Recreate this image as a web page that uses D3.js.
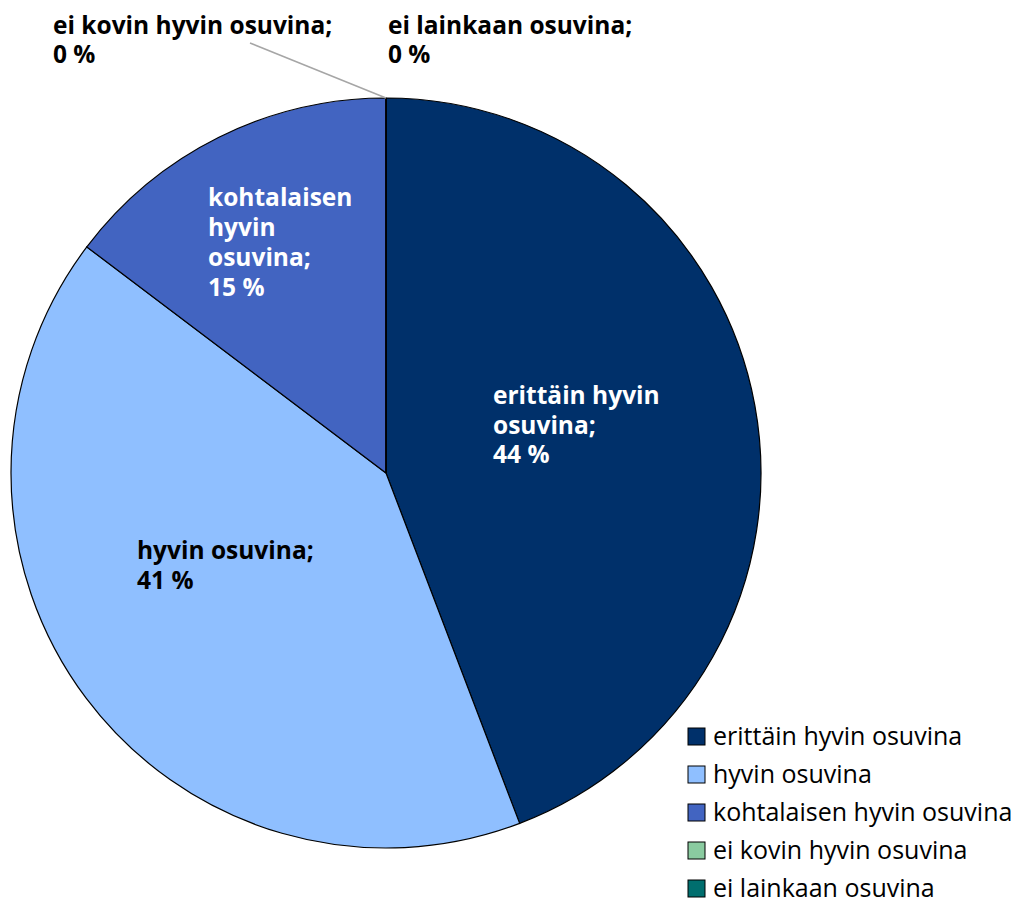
<!DOCTYPE html>
<html><head><meta charset="utf-8">
<script src="https://cdn.jsdelivr.net/npm/d3@7"></script>
<style>body{margin:0;background:#fff}svg{display:block}text{font-family:"Open Sans",sans-serif}</style>
</head><body>
<svg id="c" width="1021" height="901"></svg>
<script>
const categories = ["erittäin hyvin osuvina","hyvin osuvina","kohtalaisen hyvin osuvina","ei kovin hyvin osuvina","ei lainkaan osuvina"];
const values = [44.2, 41.1, 14.7, 0, 0];
const valueLabels = ["44 %","41 %","15 %","0 %","0 %"];
const colors = ["#00306a","#8fbfff","#4264c1","#8acba0","#006e6e"];

(function(){
const svg = d3.select("#c");
const cx = 386, cy = 473, R = 375;
const pie = d3.pie().sort(null).value(d => d.v);
const data = categories.map((c,i)=>({c, v: values[i], lab: valueLabels[i], col: colors[i]}));
const arcs = pie(data);
const arc = d3.arc().innerRadius(0).outerRadius(R);
const g = svg.append("g").attr("transform",`translate(${cx},${cy})`);
g.selectAll("path").data(arcs).join("path")
  .attr("d", arc).attr("fill", d=>d.data.col)
  .attr("stroke","#000").attr("stroke-width",1.2);

const labelSpec = [
  {x:493, y:404, lh:29.5, lines:["erittäin hyvin","osuvina;"], fill:"#fff"},
  {x:137, y:559, lh:29.5, lines:["hyvin osuvina;"], fill:"#000"},
  {x:208, y:206, lh:30, lines:["kohtalaisen","hyvin","osuvina;"], fill:"#fff"},
  {x:53, y:34, lh:29, lines:["ei kovin hyvin osuvina;"], fill:"#000"},
  {x:388, y:34, lh:29, lines:["ei lainkaan osuvina;"], fill:"#000"}
];
const pTop = d3.pointRadial(arcs[3].startAngle, R);
svg.append("line").attr("x1",250).attr("y1",43).attr("x2",cx+pTop[0]).attr("y2",cy+pTop[1])
  .attr("stroke","#a6a6a6").attr("stroke-width",1.5);

labelSpec.forEach((s,i)=>{
  const t = svg.append("text").attr("x",s.x).attr("y",s.y)
    .attr("font-size",24.5).attr("font-weight",700).attr("fill",s.fill);
  const lines = s.lines.concat([data[i].lab]);
  lines.forEach((l,j)=>t.append("tspan").attr("x",s.x).attr("dy", j?s.lh:0).text(l));
});

const lg = svg.append("g").attr("transform","translate(688,728)");
const ly = d3.scalePoint().domain(categories).range([0,152]);
const items = lg.selectAll("g").data(data).join("g").attr("transform",d=>`translate(0,${ly(d.c)})`);
items.append("rect").attr("width",17).attr("height",17).attr("fill",d=>d.col).attr("stroke","#000").attr("stroke-width",1);
items.append("text").attr("x",25).attr("y",17).attr("font-size",25).attr("fill","#000").text(d=>d.c);
})();
</script>
</body></html>
